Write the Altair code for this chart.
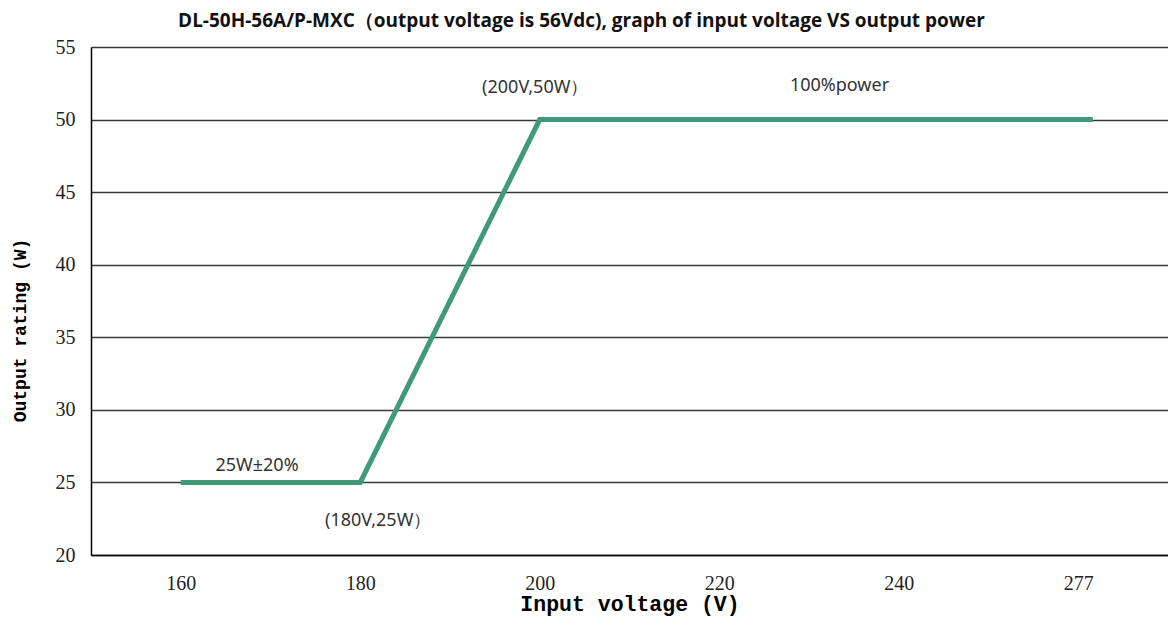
import altair as alt
import pandas as pd

# Data
volt = [160, 180, 200, 280]
power = [25, 25, 50, 50]

tick_values = [160, 180, 200, 220, 240, 277]
y_ticks = [20, 25, 30, 35, 40, 45, 50, 55]

ann_text = ["(200V,50W）", "100%power", "25W±20%", "(180V,25W）"]
ann_x = [199.5, 233.4, 168.5, 182.0]
ann_y = [52.2, 52.3, 26.1, 22.35]

W = 1077
H = 508

line_df = pd.DataFrame({"v": volt, "p": power})
ann_df = pd.DataFrame({"t": ann_text, "v": ann_x, "p": ann_y})

xscale = alt.Scale(domain=[150, 240, 277, 295.5],
                   range=[0, W * 0.75, W * 5.5 / 6, W], nice=False, zero=False)
yscale = alt.Scale(domain=[20, 55], nice=False, zero=False)

xaxis = alt.Axis(values=tick_values, grid=False, ticks=False, domainColor="#000000",
                 domainWidth=1.5, labelFont="Liberation Serif", labelFontSize=20,
                 labelColor="#222222", labelPadding=18,
                 title="Input voltage (V)", titleFont="Liberation Mono",
                 titleFontSize=21.5, titleFontWeight="bold", titleColor="#000000",
                 titlePadding=0)
yaxis = alt.Axis(values=y_ticks, grid=True, gridColor="#3a3a3a", gridWidth=1.3,
                 ticks=False, domainColor="#000000", domainWidth=1.5,
                 labelFont="Liberation Serif", labelFontSize=20, labelColor="#222222",
                 labelPadding=16, title="Output rating (W)", titleFont="Liberation Mono",
                 titleFontSize=18, titleFontWeight="bold", titleColor="#000000",
                 titlePadding=26, titleY=283)

line = alt.Chart(line_df).mark_line(color="#3f9a7a", strokeWidth=5, strokeCap="butt").encode(
    x=alt.X("v:Q", scale=xscale, axis=xaxis),
    y=alt.Y("p:Q", scale=yscale, axis=yaxis),
)

ann = alt.Chart(ann_df).mark_text(font="Noto Sans", fontSize=18, color="#333333").encode(
    x=alt.X("v:Q", scale=xscale),
    y=alt.Y("p:Q", scale=yscale),
    text="t:N",
)

chart = alt.layer(line, ann).properties(
    width=W, height=H,
    title=alt.TitleParams(
        "DL-50H-56A/P-MXC（output voltage is 56Vdc), graph of input voltage VS output power",
        anchor="middle", dx=-48, offset=6, font="Open Sans", fontSize=19, fontWeight="bold",
        color="#111111"),
    autosize=alt.AutoSizeParams(type="none"),
    padding={"left": 83, "top": 39, "right": 0, "bottom": 63},
).configure_view(stroke=None).configure(background="#ffffff")

chart.save("out.html", embed_options={"renderer": "svg", "actions": False})
